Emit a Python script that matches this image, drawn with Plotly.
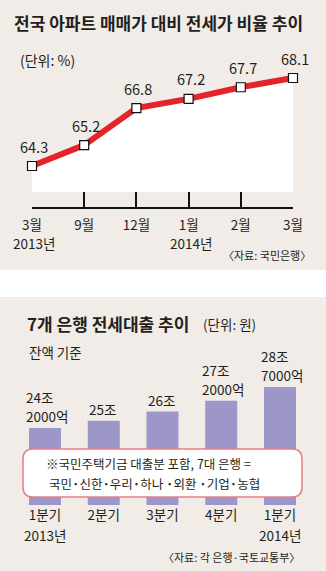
import plotly.graph_objects as go

W, H = 326, 571

# ---- data: top chart (apartment jeonse-to-sale price ratio, %) ----
MONTHS = ["3월", "9월", "12월", "1월", "2월", "3월"]
MONTH_YEARS = ["2013년", "", "", "2014년", "", ""]
RATIO = [64.3, 65.2, 66.8, 67.2, 67.7, 68.1]

# ---- data: bottom chart (7 banks jeonse loans, trillion won) ----
QUARTERS = ["1분기", "2분기", "3분기", "4분기", "1분기"]
QUARTER_YEARS = ["2013년", "", "", "", "2014년"]
LOANS = [24.2, 25.0, 26.0, 27.2, 28.7]
LOAN_LABELS = ["24조<br>2000억", "25조", "26조", "27조<br>2000억", "28조<br>7000억"]
BANKS = ["국민", "신한", "우리", "하나 ", "외환 ", "기업", "농협"]

FONT = "Noto Sans CJK KR"
TXT = "#231f20"
BEIGE = "#f1ece7"
RED = "#e3242b"
BAR = "#9c97c8"
PINK = "#e77d86"


def px(x):
    return x / W


def py(y):
    return 1 - y / H


# ---- top chart axis calibration (pixels) ----
ppu1 = (166 - 78) / (RATIO[-1] - RATIO[0])
y1_top = RATIO[0] + 166 / ppu1
y1_bot = RATIO[0] - (207 - 166) / ppu1
fill_base = RATIO[0] - (192 - 166) / ppu1

# ---- bottom chart axis calibration (pixels) ----
ppu2 = (428 - 387) / (LOANS[-1] - LOANS[0])
y2_top = LOANS[0] + (428 - 297) / ppu2
y2_bot = LOANS[0] - (505 - 428) / ppu2
step2 = (280 - 45) / (len(LOANS) - 1)

idx1 = list(range(len(RATIO)))
idx2 = list(range(len(LOANS)))

fig = go.Figure()

fig.add_trace(go.Scatter(
    x=idx1, y=[fill_base] * len(idx1), mode="lines",
    line=dict(width=0, color="white"), hoverinfo="skip",
    xaxis="x", yaxis="y"))
fig.add_trace(go.Scatter(
    x=idx1, y=RATIO, mode="lines+markers", fill="tonexty",
    fillcolor="white", line=dict(color=RED, width=6),
    marker=dict(symbol="square", size=9, color="white",
                line=dict(color="#111", width=1.2)),
    cliponaxis=False, hoverinfo="skip", xaxis="x", yaxis="y"))
# invisible companion trace so the label axis (x3) gets drawn
fig.add_trace(go.Scatter(
    x=idx1, y=RATIO, mode="markers", marker=dict(opacity=0, size=1),
    hoverinfo="skip", xaxis="x3", yaxis="y"))

fig.add_trace(go.Bar(
    x=idx2, y=LOANS, width=32 / step2, marker=dict(color=BAR, line=dict(width=0)),
    hoverinfo="skip", xaxis="x2", yaxis="y2"))

shapes = [
    dict(type="rect", xref="paper", yref="paper", x0=0, x1=1,
         y0=py(270), y1=py(0), fillcolor=BEIGE, line=dict(width=0), layer="below"),
    dict(type="rect", xref="paper", yref="paper", x0=0, x1=1,
         y0=py(571), y1=py(297), fillcolor=BEIGE, line=dict(width=0), layer="below"),
]

# rounded note box
bx0, bx1, by0, by1, r = 23, 302, 449, 497, 10
path = (
    f"M {px(bx0 + r)} {py(by0)} L {px(bx1 - r)} {py(by0)} "
    f"Q {px(bx1)} {py(by0)} {px(bx1)} {py(by0 + r)} "
    f"L {px(bx1)} {py(by1 - r)} Q {px(bx1)} {py(by1)} {px(bx1 - r)} {py(by1)} "
    f"L {px(bx0 + r)} {py(by1)} Q {px(bx0)} {py(by1)} {px(bx0)} {py(by1 - r)} "
    f"L {px(bx0)} {py(by0 + r)} Q {px(bx0)} {py(by0)} {px(bx0 + r)} {py(by0)} Z"
)
shapes.append(dict(type="path", xref="paper", yref="paper", path=path,
                   fillcolor="white", line=dict(color=PINK, width=1.5),
                   layer="above"))

ann = []


def text(x, y, s, size, bold=False, xanchor="left", yanchor="middle", align="left"):
    ann.append(dict(
        x=px(x), y=py(y), xref="paper", yref="paper", text=s, showarrow=False,
        xanchor=xanchor, yanchor=yanchor, align=align,
        font=dict(family=FONT, size=size, color=TXT,
                  weight="bold" if bold else "normal")))


text(12, 23, "전국 아파트 매매가 대비 전세가 비율 추이", 17, bold=True)
text(18, 60, "(단위: %)", 14)
text(313, 255, "〈자료: 국민은행〉", 11, xanchor="right")

for i, v in zip(idx1, RATIO):
    ann.append(dict(
        x=i, y=v, xref="x", yref="y", text=f"{v:.1f}", showarrow=False,
        xanchor="center", yanchor="middle", yshift=20, xshift=2,
        font=dict(family=FONT, size=14.5, color=TXT)))

# year line under the month tick labels
for i, yr in zip(idx1, MONTH_YEARS):
    if yr:
        ann.append(dict(
            x=i, y=py(243), xref="x", yref="paper", text=yr, showarrow=False,
            xanchor="center", yanchor="middle", xshift=2,
            font=dict(family=FONT, size=13.5, color=TXT)))

text(25, 323, "7개 은행 전세대출 추이", 17, bold=True)
text(201, 324, "(단위: 원)", 13.5)
text(27, 352, "잔액 기준", 13.5)

# bar value labels: one annotation per line, lines 19 px apart, left-aligned block
for i, v, s in zip(idx2, LOANS, LOAN_LABELS):
    lines = s.split("<br>")
    multi = len(lines) > 1
    for k, line in enumerate(reversed(lines)):
        ann.append(dict(
            x=i, y=v, xref="x2", yref="y2", text=line, showarrow=False,
            xanchor="left" if multi else "center", yanchor="bottom",
            xshift=-21 if multi else -1, yshift=k * 19,
            font=dict(family=FONT, size=13.5, color=TXT)))

# year line under the quarter tick labels
for i, yr in zip(idx2, QUARTER_YEARS):
    if yr:
        ann.append(dict(
            x=i, y=py(535), xref="x2", yref="paper", text=yr, showarrow=False,
            xanchor="center", yanchor="middle",
            font=dict(family=FONT, size=13.5, color=TXT)))

text(148, 463, "※국민주택기금 대출분 포함, 7대 은행 =", 12.5, xanchor="center")
text(154, 483, "<b>·</b>".join(BANKS), 12.5, xanchor="center")
text(302, 557, "〈자료: 각 은행·국토교통부〉", 11, xanchor="right")

fig.update_layout(
    width=W, height=H, autosize=False,
    margin=dict(l=0, r=0, t=0, b=0, pad=0, autoexpand=False),
    paper_bgcolor="white", plot_bgcolor="rgba(0,0,0,0)",
    showlegend=False, hovermode=False,
    font=dict(family=FONT, color=TXT),
    shapes=shapes, annotations=ann,
    # top chart: axis line + inside ticks (no labels)
    xaxis=dict(domain=[px(32), px(293)], range=[0, len(RATIO) - 1],
               anchor="y", tickvals=idx1, showticklabels=False,
               showline=True, linecolor="#111", linewidth=1.5,
               ticks="inside", ticklen=15, tickwidth=1.5, tickcolor="#111",
               showgrid=False, zeroline=False, fixedrange=True,
               automargin=False),
    # top chart: tick labels, pushed down by transparent outside ticks
    xaxis3=dict(domain=[px(32), px(293)], range=[0, len(RATIO) - 1],
                anchor="y", overlaying="x", side="bottom",
                tickvals=idx1, ticktext=MONTHS,
                showline=False, ticks="outside", ticklen=6,
                tickcolor="rgba(0,0,0,0)",
                showgrid=False, zeroline=False, fixedrange=True,
                automargin=False,
                tickfont=dict(family=FONT, size=13.5, color=TXT)),
    yaxis=dict(domain=[py(207), 1], range=[y1_bot, y1_top], visible=False,
               fixedrange=True, automargin=False),
    xaxis2=dict(domain=[0, 1], range=[-45 / step2, len(LOANS) - 1 + 46 / step2],
                anchor="y2", tickvals=idx2, ticktext=QUARTERS,
                showline=False, ticks="", showgrid=False, zeroline=False,
                fixedrange=True, automargin=False,
                tickfont=dict(family=FONT, size=13.5, color=TXT)),
    yaxis2=dict(domain=[py(505), py(297)], range=[y2_bot, y2_top], visible=False,
                fixedrange=True, automargin=False),
)

fig.write_html("out.html")
